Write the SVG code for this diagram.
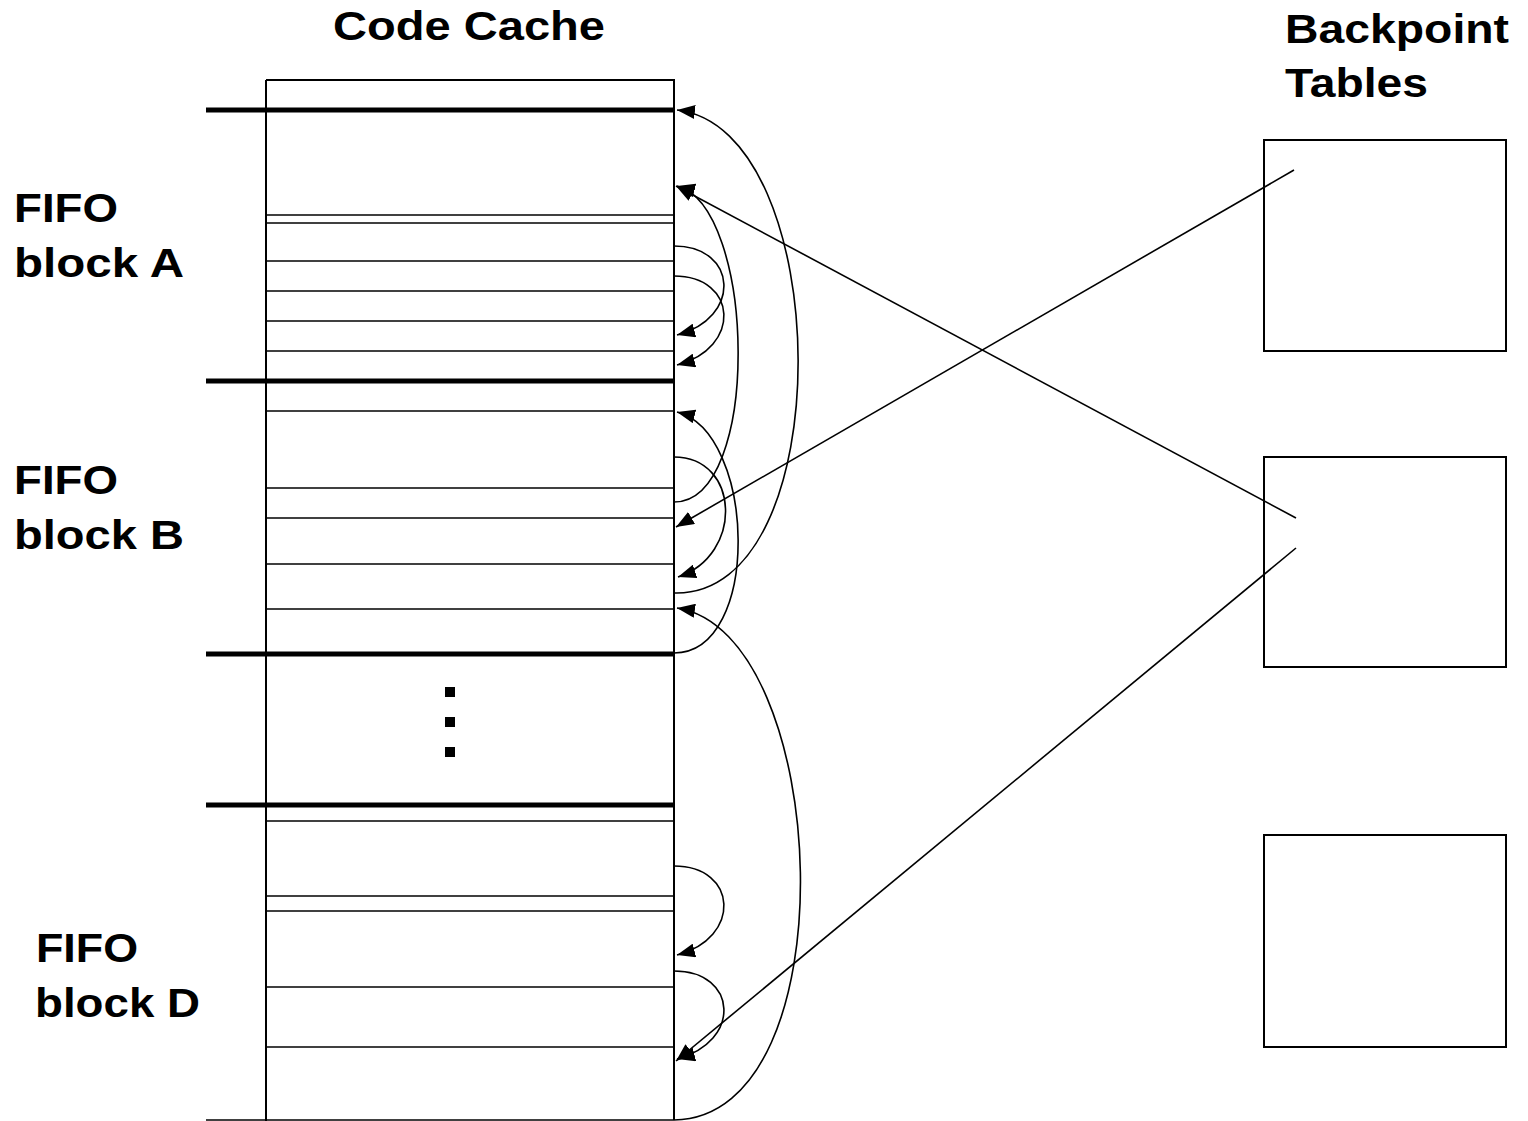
<svg xmlns="http://www.w3.org/2000/svg" width="1528" height="1121" viewBox="0 0 1528 1121">
  <defs>
    <marker id="arrow" markerUnits="userSpaceOnUse" viewBox="0 0 18 14" markerWidth="18" markerHeight="14" refX="18" refY="7" orient="auto">
      <path d="M0,0 L18,7 L0,14 Z" fill="#000"/>
    </marker>
    <style>
      text { font-family: "Liberation Sans", Arial, sans-serif; font-weight: bold; font-size: 40px; fill: #000; }
      .thin { stroke: #000; stroke-width: 1.6; fill: none; }
      .thick { stroke: #000; stroke-width: 5; fill: none; }
      .box { stroke: #000; stroke-width: 2; fill: none; }
      .conn { stroke: #000; stroke-width: 1.6; fill: none; marker-end: url(#arrow); }
    </style>
  </defs>
  <rect width="1528" height="1121" fill="#fff"/>

  <!-- headings -->
  <g id="heading-code-cache">
    <text x="333" y="40" textLength="272" lengthAdjust="spacingAndGlyphs">Code Cache</text>
  </g>
  <g id="heading-backpoint">
    <text x="1285" y="43" textLength="224" lengthAdjust="spacingAndGlyphs">Backpoint</text>
    <text x="1285" y="97" textLength="143" lengthAdjust="spacingAndGlyphs">Tables</text>
  </g>

  <!-- block labels -->
  <g id="label-block-a">
    <text x="14" y="222" textLength="104" lengthAdjust="spacingAndGlyphs">FIFO</text>
    <text x="14" y="277" textLength="170" lengthAdjust="spacingAndGlyphs">block A</text>
  </g>
  <g id="label-block-b">
    <text x="14" y="494" textLength="104" lengthAdjust="spacingAndGlyphs">FIFO</text>
    <text x="14" y="549" textLength="170" lengthAdjust="spacingAndGlyphs">block B</text>
  </g>
  <g id="label-block-d">
    <text x="36" y="962" textLength="102" lengthAdjust="spacingAndGlyphs">FIFO</text>
    <text x="35" y="1017" textLength="165" lengthAdjust="spacingAndGlyphs">block D</text>
  </g>

  <!-- code cache column -->
  <g id="code-cache">
    <path class="box" d="M266,80 H674 V1120 M266,80 V1121"/>
    <line class="thin" x1="206" y1="1120" x2="674" y2="1120"/>
    <!-- block boundaries -->
    <line class="thick" x1="206" y1="110" x2="674" y2="110"/>
    <line class="thick" x1="206" y1="381" x2="674" y2="381"/>
    <line class="thick" x1="206" y1="654" x2="674" y2="654"/>
    <line class="thick" x1="206" y1="805" x2="674" y2="805"/>
    <!-- fragment entries, block A -->
    <line class="thin" x1="266" y1="215" x2="674" y2="215"/>
    <line class="thin" x1="266" y1="223" x2="674" y2="223"/>
    <line class="thin" x1="266" y1="261" x2="674" y2="261"/>
    <line class="thin" x1="266" y1="291" x2="674" y2="291"/>
    <line class="thin" x1="266" y1="321" x2="674" y2="321"/>
    <line class="thin" x1="266" y1="351" x2="674" y2="351"/>
    <!-- block B -->
    <line class="thin" x1="266" y1="411" x2="674" y2="411"/>
    <line class="thin" x1="266" y1="488" x2="674" y2="488"/>
    <line class="thin" x1="266" y1="518" x2="674" y2="518"/>
    <line class="thin" x1="266" y1="564" x2="674" y2="564"/>
    <line class="thin" x1="266" y1="609" x2="674" y2="609"/>
    <!-- block D -->
    <line class="thin" x1="266" y1="821" x2="674" y2="821"/>
    <line class="thin" x1="266" y1="896" x2="674" y2="896"/>
    <line class="thin" x1="266" y1="911" x2="674" y2="911"/>
    <line class="thin" x1="266" y1="987" x2="674" y2="987"/>
    <line class="thin" x1="266" y1="1047" x2="674" y2="1047"/>
    <!-- elided blocks -->
    <rect x="445" y="687" width="10" height="10" fill="#000"/>
    <rect x="445" y="717" width="10" height="10" fill="#000"/>
    <rect x="445" y="747" width="10" height="10" fill="#000"/>
  </g>

  <!-- backpointer tables -->
  <g id="table-1"><rect class="box" x="1264" y="140" width="242" height="211"/></g>
  <g id="table-2"><rect class="box" x="1264" y="457" width="242" height="210"/></g>
  <g id="table-3"><rect class="box" x="1264" y="835" width="242" height="212"/></g>

  <!-- links -->
  <g id="connectors">
    <!-- block A internal -->
    <path class="conn" d="M674,246 C738,246 742,318 677,335"/>
    <path class="conn" d="M674,276 C738,276 742,348 677,365"/>
    <!-- block B to block A -->
    <path class="conn" d="M674,593 C842,598 836,128 677,110"/>
    <path class="conn" d="M674,502 C762,502 756,206 677,186"/>
    <!-- block B internal -->
    <path class="conn" d="M674,457 C740,457 744,555 678,577"/>
    <path class="conn" d="M674,653 C762,653 756,432 677,412"/>
    <!-- block D to block B -->
    <path class="conn" d="M674,1120 C852,1118 832,632 677,608"/>
    <!-- block D internal -->
    <path class="conn" d="M674,866 C738,866 742,938 677,955"/>
    <path class="conn" d="M674,971 C738,971 742,1042 677,1059"/>
    <!-- table entries -->
    <path class="conn" d="M1294,170 L676,527"/>
    <path class="conn" d="M1296,518 L676,186"/>
    <path class="conn" d="M1296,548 L676,1061"/>
  </g>
</svg>
